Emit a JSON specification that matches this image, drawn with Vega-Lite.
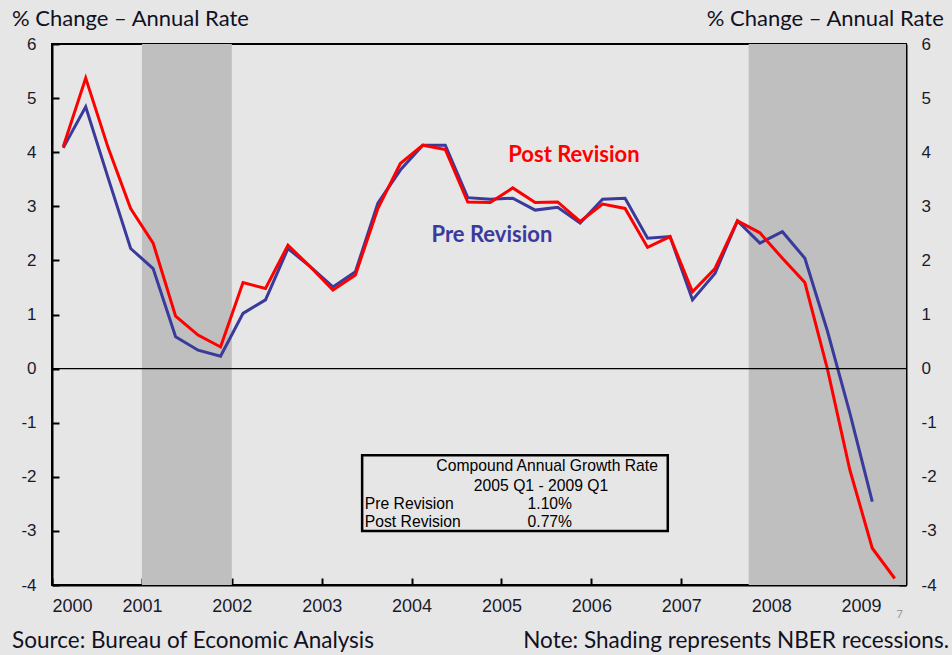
{
  "$schema": "https://vega.github.io/schema/vega-lite/v6.json",
  "width": 854,
  "height": 541,
  "autosize": {"type": "none"},
  "padding": {"left": 52, "top": 44, "right": 46, "bottom": 70},
  "background": "#e6e6e6",
  "data": {"values": [{"note": "annotation"}]},
  "config": {
    "view": {"stroke": "#000000", "strokeWidth": 2, "fill": "#e6e6e6"},
    "axis": {
      "grid": false,
      "domainColor": "#000000",
      "domainWidth": 2,
      "tickColor": "#000000",
      "tickWidth": 2,
      "labelFont": "Liberation Sans",
      "labelFontSize": 17,
      "labelColor": "#1a1a2a",
      "labelFontWeight": "normal"
    },
    "text": {"font": "Lato"}
  },
  "datasets": {
    "gdp": [
      {"t": 2000.125, "pre": 4.08, "post": 4.10},
      {"t": 2000.375, "pre": 4.84, "post": 5.37},
      {"t": 2000.625, "pre": 3.52, "post": 4.08},
      {"t": 2000.875, "pre": 2.22, "post": 2.96},
      {"t": 2001.125, "pre": 1.85, "post": 2.32},
      {"t": 2001.375, "pre": 0.59, "post": 0.97},
      {"t": 2001.625, "pre": 0.34, "post": 0.62},
      {"t": 2001.875, "pre": 0.23, "post": 0.40},
      {"t": 2002.125, "pre": 1.02, "post": 1.59},
      {"t": 2002.375, "pre": 1.27, "post": 1.48},
      {"t": 2002.625, "pre": 2.22, "post": 2.28},
      {"t": 2002.875, "pre": 1.88, "post": 1.88},
      {"t": 2003.125, "pre": 1.51, "post": 1.45},
      {"t": 2003.375, "pre": 1.79, "post": 1.73},
      {"t": 2003.625, "pre": 3.06, "post": 2.96},
      {"t": 2003.875, "pre": 3.67, "post": 3.79},
      {"t": 2004.125, "pre": 4.13, "post": 4.13},
      {"t": 2004.375, "pre": 4.13, "post": 4.05},
      {"t": 2004.625, "pre": 3.16, "post": 3.08},
      {"t": 2004.875, "pre": 3.13, "post": 3.07},
      {"t": 2005.125, "pre": 3.15, "post": 3.34},
      {"t": 2005.375, "pre": 2.93, "post": 3.07},
      {"t": 2005.625, "pre": 2.98, "post": 3.08},
      {"t": 2005.875, "pre": 2.69, "post": 2.72},
      {"t": 2006.125, "pre": 3.13, "post": 3.04},
      {"t": 2006.375, "pre": 3.15, "post": 2.96},
      {"t": 2006.625, "pre": 2.41, "post": 2.24},
      {"t": 2006.875, "pre": 2.44, "post": 2.44},
      {"t": 2007.125, "pre": 1.27, "post": 1.42},
      {"t": 2007.375, "pre": 1.76, "post": 1.85},
      {"t": 2007.625, "pre": 2.73, "post": 2.73},
      {"t": 2007.875, "pre": 2.32, "post": 2.51},
      {"t": 2008.125, "pre": 2.53, "post": 2.04},
      {"t": 2008.375, "pre": 2.04, "post": 1.59},
      {"t": 2008.625, "pre": 0.70, "post": 0.00},
      {"t": 2008.875, "pre": -0.82, "post": -1.87},
      {"t": 2009.125, "pre": -2.46, "post": -3.32},
      {"t": 2009.375, "pre": null, "post": -3.88}
    ],
    "recessions": [
      {"start": 2001.0, "end": 2002.0},
      {"start": 2007.75, "end": 2009.5}
    ],
    "cagr": [
      {"label": "Pre Revision", "value": "1.10%"},
      {"label": "Post Revision", "value": "0.77%"}
    ]
  },
  "layer": [
    {
      "data": {"name": "recessions"},
      "mark": {"type": "rect", "color": "#bfbfbf"},
      "encoding": {
        "x": {"field": "start", "type": "quantitative", "scale": {"domain": [2000, 2009.5], "nice": false, "zero": false},
          "axis": {"values": [2000, 2001, 2002, 2003, 2004, 2005, 2006, 2007, 2008, 2009], "format": "d", "title": null, "tickSize": -7, "labelPadding": 19, "labelDx": 11, "labelFontSize": 18}},
        "x2": {"field": "end"}
      }
    },
    {
      "data": {"name": "gdp"},
      "transform": [{"filter": "isValid(datum.pre)"}],
      "mark": {"type": "line", "color": "#3a3a9c", "strokeWidth": 3},
      "encoding": {
        "x": {"field": "t", "type": "quantitative"},
        "y": {"field": "pre", "type": "quantitative", "scale": {"domain": [-4, 6], "nice": false, "zero": false},
          "axis": {"orient": "left", "values": [-4, -3, -2, -1, 0, 1, 2, 3, 4, 5, 6], "labelExpr": "datum.value + ''", "title": null, "tickSize": -7, "labelPadding": 23}}
      }
    },
    {
      "data": {"name": "gdp"},
      "mark": {"type": "line", "color": "#ff0000", "strokeWidth": 3},
      "encoding": {
        "x": {"field": "t", "type": "quantitative"},
        "y": {"field": "post", "type": "quantitative",
          "axis": {"orient": "right", "values": [-4, -3, -2, -1, 0, 1, 2, 3, 4, 5, 6], "labelExpr": "datum.value + ''", "title": null, "tickSize": -7, "labelPadding": 22}}
      }
    },
    {
      "mark": {"type": "rule", "color": "#000000", "strokeWidth": 1.2},
      "encoding": {"y": {"datum": 0, "type": "quantitative", "axis": null}}
    },
    {
      "mark": {"type": "text", "text": "Post Revision", "color": "#ff0000", "fontSize": 22, "fontWeight": "bold", "align": "center", "baseline": "middle"},
      "encoding": {"x": {"datum": 2005.806, "type": "quantitative"}, "y": {"datum": 3.95, "type": "quantitative", "axis": null}}
    },
    {
      "mark": {"type": "text", "text": "Pre Revision", "color": "#3a3a9c", "fontSize": 22, "fontWeight": "bold", "align": "center", "baseline": "middle"},
      "encoding": {"x": {"datum": 2004.894, "type": "quantitative"}, "y": {"datum": 2.47, "type": "quantitative", "axis": null}}
    },
    {
      "mark": {"type": "rect", "fill": "#e6e6e6", "stroke": "#000000", "strokeWidth": 2.5},
      "encoding": {"x": {"datum": 2003.45, "type": "quantitative"}, "x2": {"datum": 2006.85}, "y": {"datum": -1.6, "type": "quantitative", "axis": null}, "y2": {"datum": -3.0}}
    },
    {
      "mark": {"type": "text", "text": "Compound Annual Growth Rate", "font": "Liberation Sans", "fontSize": 15.7, "color": "#000000", "align": "right", "baseline": "middle"},
      "encoding": {"x": {"datum": 2006.74, "type": "quantitative"}, "y": {"datum": -1.80, "type": "quantitative", "axis": null}}
    },
    {
      "mark": {"type": "text", "text": "2005 Q1 - 2009 Q1", "font": "Liberation Sans", "fontSize": 15.7, "color": "#000000", "align": "center", "baseline": "middle"},
      "encoding": {"x": {"datum": 2005.44, "type": "quantitative"}, "y": {"datum": -2.17, "type": "quantitative", "axis": null}}
    },
    {
      "data": {"name": "cagr"},
      "transform": [{"filter": "datum.label == 'Pre Revision'"}],
      "layer": [
        {
          "mark": {"type": "text", "font": "Liberation Sans", "fontSize": 15.7, "color": "#000000", "align": "left", "baseline": "middle"},
          "encoding": {"x": {"datum": 2003.48, "type": "quantitative"}, "y": {"datum": -2.50, "type": "quantitative", "axis": null}, "text": {"field": "label"}}
        },
        {
          "mark": {"type": "text", "font": "Liberation Sans", "fontSize": 15.7, "color": "#000000", "align": "left", "baseline": "middle"},
          "encoding": {"x": {"datum": 2005.29, "type": "quantitative"}, "y": {"datum": -2.50, "type": "quantitative", "axis": null}, "text": {"field": "value"}}
        }
      ]
    },
    {
      "data": {"name": "cagr"},
      "transform": [{"filter": "datum.label == 'Post Revision'"}],
      "layer": [
        {
          "mark": {"type": "text", "font": "Liberation Sans", "fontSize": 15.7, "color": "#000000", "align": "left", "baseline": "middle"},
          "encoding": {"x": {"datum": 2003.48, "type": "quantitative"}, "y": {"datum": -2.83, "type": "quantitative", "axis": null}, "text": {"field": "label"}}
        },
        {
          "mark": {"type": "text", "font": "Liberation Sans", "fontSize": 15.7, "color": "#000000", "align": "left", "baseline": "middle"},
          "encoding": {"x": {"datum": 2005.29, "type": "quantitative"}, "y": {"datum": -2.83, "type": "quantitative", "axis": null}, "text": {"field": "value"}}
        }
      ]
    },
    {
      "mark": {"type": "text", "text": "% Change – Annual Rate", "fontSize": 22, "color": "#111122", "align": "left", "baseline": "middle"},
      "encoding": {"x": {"datum": 1999.556, "type": "quantitative"}, "y": {"datum": 6.46, "type": "quantitative", "axis": null}}
    },
    {
      "mark": {"type": "text", "text": "% Change – Annual Rate", "fontSize": 22, "color": "#111122", "align": "right", "baseline": "middle"},
      "encoding": {"x": {"datum": 2009.92, "type": "quantitative"}, "y": {"datum": 6.46, "type": "quantitative", "axis": null}}
    },
    {
      "mark": {"type": "text", "text": "Source: Bureau of Economic Analysis", "fontSize": 22.5, "color": "#111122", "align": "left", "baseline": "middle"},
      "encoding": {"x": {"datum": 1999.556, "type": "quantitative"}, "y": {"datum": -5.04, "type": "quantitative", "axis": null}}
    },
    {
      "mark": {"type": "text", "text": "Note: Shading represents NBER recessions.", "fontSize": 22.5, "color": "#111122", "align": "right", "baseline": "middle"},
      "encoding": {"x": {"datum": 2009.978, "type": "quantitative"}, "y": {"datum": -5.04, "type": "quantitative", "axis": null}}
    },
    {
      "mark": {"type": "text", "text": "7", "fontSize": 11, "color": "#999999", "align": "center", "baseline": "middle"},
      "encoding": {"x": {"datum": 2009.43, "type": "quantitative"}, "y": {"datum": -4.56, "type": "quantitative", "axis": null}}
    }
  ],
  "resolve": {"scale": {"y": "shared", "x": "shared"}}
}
